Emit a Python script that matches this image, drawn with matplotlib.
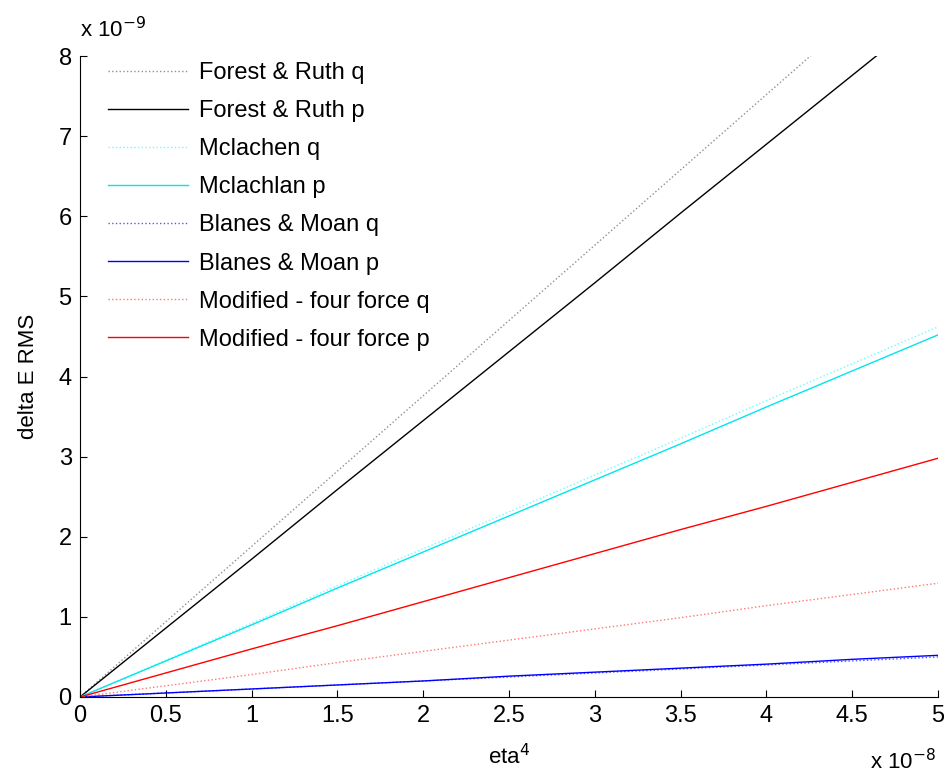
import matplotlib
matplotlib.use("Agg")
import matplotlib.pyplot as plt
import numpy as np

plt.rcParams['font.family'] = ['Liberation Sans', 'DejaVu Sans']

# eta^4 in units of 1e-8, delta E RMS in units of 1e-9
eta4 = [0, 0.5, 1, 1.5, 2, 2.5, 3, 3.5, 4, 4.5, 5]

forest_q = [0, 0.94, 1.88, 2.82, 3.76, 4.70, 5.64, 6.58, 7.52, 8.46, 9.40]
forest_p = [0, 0.86, 1.72, 2.59, 3.45, 4.31, 5.17, 6.04, 6.90, 7.76, 8.62]
mclach_q = [0, 0.46, 0.92, 1.39, 1.85, 2.31, 2.77, 3.23, 3.70, 4.16, 4.62]
mclach_p = [0, 0.45, 0.90, 1.36, 1.81, 2.26, 2.71, 3.16, 3.62, 4.07, 4.52]
blanes_q = [0, 0.05, 0.10, 0.15, 0.20, 0.25, 0.30, 0.35, 0.40, 0.45, 0.50]
blanes_p = [0, 0.05, 0.10, 0.15, 0.20, 0.26, 0.31, 0.36, 0.41, 0.47, 0.52]
modif_q = [0, 0.14, 0.28, 0.43, 0.57, 0.71, 0.85, 0.99, 1.14, 1.28, 1.42]
modif_p = [0, 0.30, 0.60, 0.89, 1.19, 1.49, 1.79, 2.09, 2.38, 2.68, 2.98]

series = [
    (forest_q, 'Forest & Ruth q', '#909090', ':'),
    (forest_p, 'Forest & Ruth p', 'black', '-'),
    (mclach_q, 'Mclachen q', '#66ffff', ':'),
    (mclach_p, 'Mclachlan p', '#00e5ee', '-'),
    (blanes_q, 'Blanes & Moan q', '#5555ff', ':'),
    (blanes_p, 'Blanes & Moan p', 'blue', '-'),
    (modif_q, 'Modified - four force q', '#ff7777', ':'),
    (modif_p, 'Modified - four force p', 'red', '-'),
]

fig = plt.figure(figsize=(9.45, 7.74), dpi=100)
ax = fig.add_axes([0.0847, 0.0995, 0.908, 0.8281])

x = np.array(eta4) * 1e-8
for vals, lab, col, ls in series:
    ax.plot(x, np.array(vals) * 1e-9, color=col, linestyle=ls, linewidth=1.0, label=lab)

ax.set_xlim(0, 5e-8)
ax.set_ylim(0, 8e-9)
ax.set_xticks(np.arange(0, 5.01, 0.5) * 1e-8)
ax.set_xticklabels(['0', '0.5', '1', '1.5', '2', '2.5', '3', '3.5', '4', '4.5', '5'])
ax.set_yticks(np.arange(0, 9) * 1e-9)
ax.set_yticklabels([str(i) for i in range(9)])
ax.tick_params(direction='in', length=5, labelsize=17, pad=6)
for s in ['top', 'right']:
    ax.spines[s].set_visible(False)

ax.set_xlabel('eta$^4$', fontsize=16, labelpad=12)
ax.set_ylabel('delta E RMS', fontsize=16, labelpad=14)

fig.text(80 / 945, 1 - 30 / 774, 'x 10$^{-9}$', fontsize=16, va='center', ha='left')
fig.text(870 / 945, 1 - 762 / 774, 'x 10$^{-8}$', fontsize=16, va='center', ha='left')

ax.legend(loc='upper left', bbox_to_anchor=(0.0215, 1.005), frameon=False, fontsize=17,
          handlelength=3.4, handletextpad=0.45, labelspacing=0.68, borderaxespad=0)

fig.savefig('out.png', dpi=100)
